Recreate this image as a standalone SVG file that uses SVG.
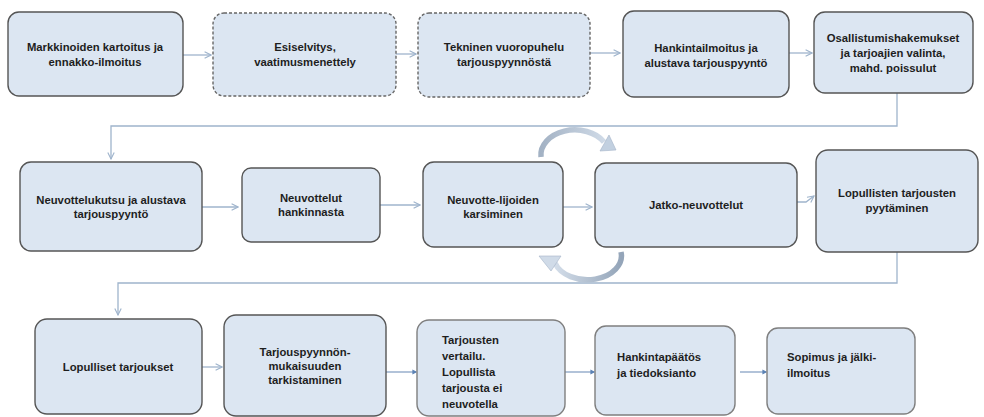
<svg xmlns="http://www.w3.org/2000/svg" width="984" height="417" viewBox="0 0 984 417">
<defs>
<style>
.box{fill:#dce6f2;stroke:#555;stroke-width:1.4}
.lt{stroke:#7f7f7f}
.dash{stroke-dasharray:3 2;stroke:#666}
.t{font-family:"Liberation Sans",Arial,sans-serif;font-weight:bold;font-size:11.3px;fill:#1e1e1e;text-anchor:middle}
.l{text-anchor:start}
.c{fill:none;stroke:#9fb4cc;stroke-width:1.3}
.cb{fill:none;stroke:#7f9cc0;stroke-width:1.2}
</style>
<marker id="ah" viewBox="0 0 10 10" refX="9" refY="5" markerWidth="8" markerHeight="8" markerUnits="userSpaceOnUse" orient="auto">
<path d="M1,1 L9,5 L1,9" fill="none" stroke="#9fb4cc" stroke-width="1.4"/>
</marker>
<marker id="dot" viewBox="0 0 10 10" refX="7" refY="5" markerWidth="6" markerHeight="6" markerUnits="userSpaceOnUse" orient="auto">
<path d="M1,1 L9,5 L1,9 Z" fill="#5b82b5"/>
</marker>
<linearGradient id="g1" x1="0" y1="0" x2="1" y2="0">
<stop offset="0" stop-color="#a3b2c4"/>
<stop offset="1" stop-color="#cfdae7"/>
</linearGradient>
<linearGradient id="g2" x1="1" y1="0" x2="0" y2="0">
<stop offset="0" stop-color="#94a5b9"/>
<stop offset="1" stop-color="#d3dde9"/>
</linearGradient>
</defs>

<g id="connectors">
<line class="c" x1="183" y1="55" x2="211" y2="55" marker-end="url(#ah)"/>
<line class="c" x1="396" y1="54" x2="416" y2="54" marker-end="url(#ah)"/>
<line class="c" x1="590" y1="53" x2="620" y2="53" marker-end="url(#ah)"/>
<line class="c" x1="789" y1="53" x2="812" y2="53" marker-end="url(#ah)"/>
<path class="c" d="M897,93 V126 H111 V159" marker-end="url(#ah)"/>
<line class="c" x1="202" y1="207" x2="238" y2="207" marker-end="url(#ah)"/>
<line class="c" x1="380" y1="205" x2="420" y2="205" marker-end="url(#ah)"/>
<line class="c" x1="563" y1="207" x2="592" y2="207" marker-end="url(#ah)"/>
<path class="c" d="M797,202 H806 L814,196" marker-end="url(#ah)"/>
<path class="c" d="M897,252 V283 H118 V315" marker-end="url(#ah)"/>
<line class="c" x1="202" y1="367" x2="222" y2="367" marker-end="url(#ah)"/>
<line class="cb" x1="386" y1="372" x2="416" y2="372" marker-end="url(#dot)"/>
<line class="cb" x1="565" y1="372" x2="594" y2="372" marker-end="url(#dot)"/>
<line class="cb" x1="740" y1="372" x2="766" y2="372" marker-end="url(#dot)"/>
<path d="M541,157 A34,25 0 0,1 604,142" fill="none" stroke="url(#g1)" stroke-width="5.5"/>
<polygon points="609,135 600,151 616,150" fill="#c2d0e0" stroke="#a4b4c7" stroke-width="0.6"/>
<path d="M621,252 A34,24 0 0,1 555,263" fill="none" stroke="url(#g2)" stroke-width="5.5"/>
<polygon points="551,271 561,256 539,256" fill="#d0dbe8" stroke="#a4b4c7" stroke-width="0.6"/>
</g>

<g id="n1"><rect class="box" x="8" y="12" width="175" height="84" rx="11"/>
<text class="t" x="95" y="51">Markkinoiden kartoitus ja</text><text class="t" x="95" y="66">ennakko-ilmoitus</text></g>
<g id="n2"><rect class="box dash" x="213" y="13" width="183" height="83" rx="11"/>
<text class="t" x="305" y="51">Esiselvitys,</text><text class="t" x="305" y="66">vaatimusmenettely</text></g>
<g id="n3"><rect class="box dash" x="418" y="13" width="172" height="84" rx="11"/>
<text class="t" x="504" y="51">Tekninen vuoropuhelu</text><text class="t" x="504" y="66">tarjouspyynnöstä</text></g>
<g id="n4"><rect class="box" x="623" y="11" width="166" height="86" rx="11"/>
<text class="t" x="706" y="52">Hankintailmoitus ja</text><text class="t" x="706" y="67">alustava tarjouspyyntö</text></g>
<g id="n5"><rect class="box" x="814" y="12" width="159" height="81" rx="11"/>
<text class="t" x="893" y="42">Osallistumishakemukset</text><text class="t" x="893" y="57">ja tarjoajien valinta,</text><text class="t" x="893" y="72">mahd. poissulut</text></g>

<g id="n6"><rect class="box" x="20" y="162" width="182" height="89" rx="11"/>
<text class="t" x="111" y="204">Neuvottelukutsu ja alustava</text><text class="t" x="111" y="218">tarjouspyyntö</text></g>
<g id="n7"><rect class="box" x="242" y="168" width="138" height="74" rx="9"/>
<text class="t" x="311" y="202">Neuvottelut</text><text class="t" x="311" y="216">hankinnasta</text></g>
<g id="n8"><rect class="box" x="423" y="162" width="140" height="85" rx="11"/>
<text class="t" x="493" y="204">Neuvotte-lijoiden</text><text class="t" x="493" y="218">karsiminen</text></g>
<g id="n9"><rect class="box" x="595" y="163" width="202" height="84" rx="11"/>
<text class="t" x="696" y="209">Jatko-neuvottelut</text></g>
<g id="n10"><rect class="box" x="816" y="150" width="162" height="102" rx="12"/>
<text class="t" x="897" y="197">Lopullisten tarjousten</text><text class="t" x="897" y="212">pyytäminen</text></g>

<g id="n11"><rect class="box" x="35" y="319" width="167" height="95" rx="12"/>
<text class="t" x="118" y="371">Lopulliset tarjoukset</text></g>
<g id="n12"><rect class="box" x="224" y="315" width="162" height="101" rx="12"/>
<text class="t" x="305" y="356">Tarjouspyynnön-</text><text class="t" x="305" y="370">mukaisuuden</text><text class="t" x="305" y="384">tarkistaminen</text></g>
<g id="n13"><rect class="box lt" x="417" y="320" width="148" height="96" rx="12"/>
<text class="t l" x="442" y="344">Tarjousten</text><text class="t l" x="442" y="360">vertailu.</text><text class="t l" x="442" y="376">Lopullista</text><text class="t l" x="442" y="392">tarjousta ei</text><text class="t l" x="442" y="408">neuvotella</text></g>
<g id="n14"><rect class="box lt" x="595" y="326" width="140" height="89" rx="11"/>
<text class="t l" x="617" y="361">Hankintapäätös</text><text class="t l" x="617" y="377">ja tiedoksianto</text></g>
<g id="n15"><rect class="box lt" x="767" y="328" width="148" height="86" rx="11"/>
<text class="t l" x="787" y="361">Sopimus ja jälki-</text><text class="t l" x="787" y="377">ilmoitus</text></g>
</svg>
